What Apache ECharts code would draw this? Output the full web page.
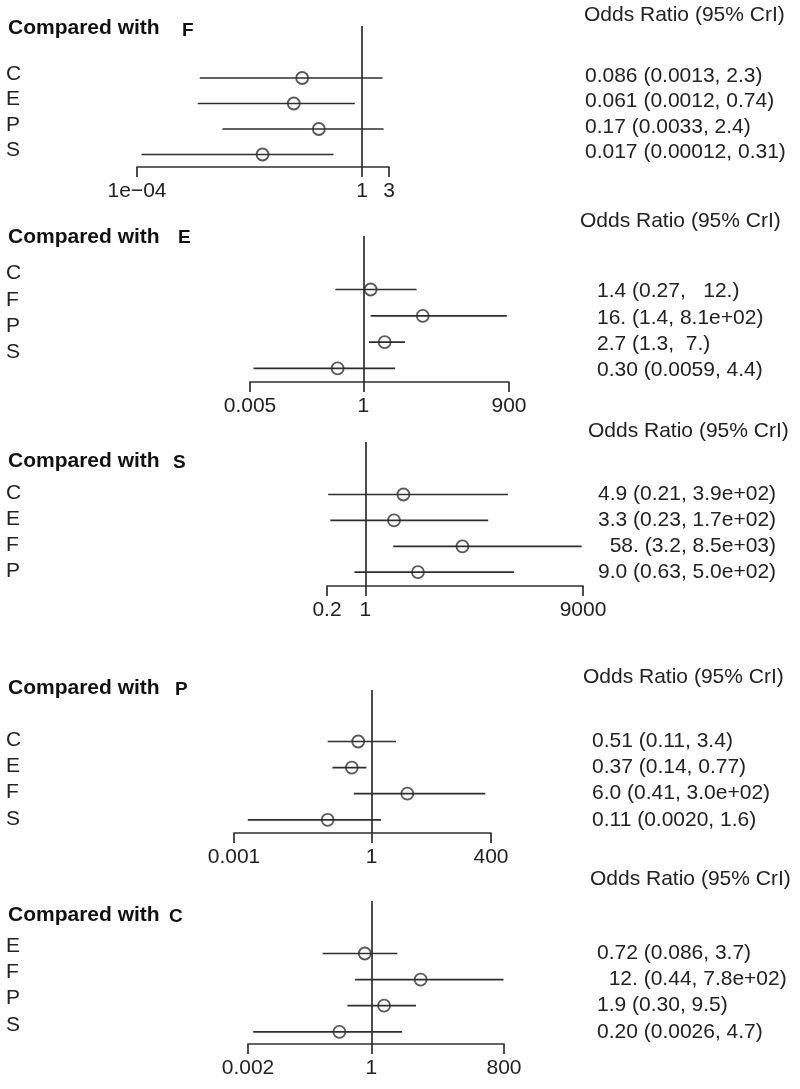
<!DOCTYPE html>
<html>
<head>
<meta charset="utf-8">
<script src="https://cdn.jsdelivr.net/npm/echarts@6/dist/echarts.min.js"></script>
<style>
html, body { margin: 0; padding: 0; background: #fff; }
#chart { width: 800px; height: 1089px; }
</style>
</head>
<body>
<div id="chart"></div>
<script>
// comparator of each panel
const refs = ['F', 'E', 'S', 'P', 'C'];

// compared with F
const fCats = ['C', 'E', 'P', 'S'];
const fOR = [0.086, 0.061, 0.17, 0.017];
const fLow = [0.0013, 0.0012, 0.0033, 0.00012];
const fHigh = [2.3, 0.74, 2.4, 0.31];
const fText = ['0.086 (0.0013, 2.3)', '0.061 (0.0012, 0.74)', '0.17 (0.0033, 2.4)', '0.017 (0.00012, 0.31)'];
const fTicks = [0.0001, 1, 3];
const fTickLabels = ['1e\u221204', '1', '3'];

// compared with E
const eCats = ['C', 'F', 'P', 'S'];
const eOR = [1.4, 16, 2.7, 0.30];
const eLow = [0.27, 1.4, 1.3, 0.0059];
const eHigh = [12, 810, 7, 4.4];
const eText = ['1.4 (0.27,   12.)', '16. (1.4, 8.1e+02)', '2.7 (1.3,  7.)', '0.30 (0.0059, 4.4)'];
const eTicks = [0.005, 1, 900];
const eTickLabels = ['0.005', '1', '900'];

// compared with S
const sCats = ['C', 'E', 'F', 'P'];
const sOR = [4.9, 3.3, 58, 9.0];
const sLow = [0.21, 0.23, 3.2, 0.63];
const sHigh = [390, 170, 8500, 500];
const sText = ['4.9 (0.21, 3.9e+02)', '3.3 (0.23, 1.7e+02)', '  58. (3.2, 8.5e+03)', '9.0 (0.63, 5.0e+02)'];
const sTicks = [0.2, 1, 9000];
const sTickLabels = ['0.2', '1', '9000'];

// compared with P
const pCats = ['C', 'E', 'F', 'S'];
const pOR = [0.51, 0.37, 6.0, 0.11];
const pLow = [0.11, 0.14, 0.41, 0.0020];
const pHigh = [3.4, 0.77, 300, 1.6];
const pText = ['0.51 (0.11, 3.4)', '0.37 (0.14, 0.77)', '6.0 (0.41, 3.0e+02)', '0.11 (0.0020, 1.6)'];
const pTicks = [0.001, 1, 400];
const pTickLabels = ['0.001', '1', '400'];

// compared with C
const cCats = ['E', 'F', 'P', 'S'];
const cOR = [0.72, 12, 1.9, 0.20];
const cLow = [0.086, 0.44, 0.30, 0.0026];
const cHigh = [3.7, 780, 9.5, 4.7];
const cText = ['0.72 (0.086, 3.7)', '  12. (0.44, 7.8e+02)', '1.9 (0.30, 9.5)', '0.20 (0.0026, 4.7)'];
const cTicks = [0.002, 1, 800];
const cTickLabels = ['0.002', '1', '800'];

const panels = [
  { cats: fCats, or: fOR, low: fLow, high: fHigh, text: fText, ticks: fTicks, tickLabels: fTickLabels },
  { cats: eCats, or: eOR, low: eLow, high: eHigh, text: eText, ticks: eTicks, tickLabels: eTickLabels },
  { cats: sCats, or: sOR, low: sLow, high: sHigh, text: sText, ticks: sTicks, tickLabels: sTickLabels },
  { cats: pCats, or: pOR, low: pLow, high: pHigh, text: pText, ticks: pTicks, tickLabels: pTickLabels },
  { cats: cCats, or: cOR, low: cLow, high: cHigh, text: cText, ticks: cTicks, tickLabels: cTickLabels }
];

// pixel layout of each panel
const layout = [
  { top: 26, axisY: 167, left: 137, right: 389, row0: 78, gap: 25.5, labDy: -4, txtDy: -2, headX: 584, headY: 15, txtX: 585, titleY: 28, refX: 182, refY: 31 },
  { top: 236, axisY: 382, left: 250, right: 509, row0: 289.5, gap: 26.3, labDy: -16, txtDy: 2, headX: 580, headY: 221, txtX: 597, titleY: 237, refX: 178, refY: 238 },
  { top: 442, axisY: 586, left: 327, right: 583, row0: 494.5, gap: 25.9, labDy: -1, txtDy: 0, headX: 588, headY: 431, txtX: 598, titleY: 461, refX: 173, refY: 463 },
  { top: 690, axisY: 833, left: 234, right: 491, row0: 741.5, gap: 26.1, labDy: -1, txtDy: 0, headX: 583, headY: 677, txtX: 592, titleY: 688, refX: 175, refY: 690 },
  { top: 901, axisY: 1044, left: 248, right: 504, row0: 953.5, gap: 26.1, labDy: -7, txtDy: 0, headX: 590, headY: 879, txtX: 597, titleY: 915, refX: 169, refY: 917 }
];

const ink = '#2e2e2e';
const textInk = '#222';
const font = '"Liberation Sans", Arial, sans-serif';

const grids = [], xAxes = [], yAxes = [], series = [], graphics = [];

panels.forEach((p, i) => {
  const L = layout[i];
  grids.push({ left: L.left, top: L.top, width: L.right - L.left, height: L.axisY - L.top, outerBoundsMode: 'none' });
  xAxes.push({
    type: 'log', logBase: 10, gridIndex: i,
    min: p.ticks[0], max: p.ticks[p.ticks.length - 1],
    axisLine: { show: true, onZero: false, lineStyle: { color: ink, width: 1.7 } },
    axisTick: { show: true, customValues: p.ticks, length: 10, lineStyle: { color: ink, width: 1.7 } },
    axisLabel: {
      customValues: p.ticks, margin: 14, color: textInk, fontSize: 21, fontFamily: font,
      formatter: v => {
        let k = 0, best = Infinity;
        p.ticks.forEach((t, j) => { const d = Math.abs(Math.log(v) - Math.log(t)); if (d < best) { best = d; k = j; } });
        return p.tickLabels[k];
      }
    },
    splitLine: { show: false }, minorTick: { show: false }
  });
  yAxes.push({
    type: 'value', gridIndex: i, inverse: true, show: false,
    min: (L.top - L.row0) / L.gap, max: (L.axisY - L.row0) / L.gap
  });
  series.push({
    type: 'custom', xAxisIndex: i, yAxisIndex: i, silent: true,
    encode: { x: [0, 1], y: 2 },
    data: p.cats.map((c, j) => [p.low[j], p.high[j], j]),
    renderItem: (params, api) => {
      const a = api.coord([api.value(0), api.value(2)]);
      const b = api.coord([api.value(1), api.value(2)]);
      return { type: 'line', shape: { x1: a[0], y1: a[1], x2: b[0], y2: b[1] }, style: { stroke: ink, lineWidth: 1.7 } };
    }
  });
  series.push({
    type: 'scatter', xAxisIndex: i, yAxisIndex: i, z: 5,
    symbol: 'circle', symbolSize: 12,
    itemStyle: { color: 'rgba(0,0,0,0)', borderColor: ink, borderWidth: 1.8 },
    data: p.cats.map((c, j) => [p.or[j], j]),
    markLine: {
      silent: true, symbol: ['none', 'none'], label: { show: false },
      lineStyle: { color: ink, width: 1.7, type: 'solid' },
      data: [{ xAxis: 1 }]
    }
  });

  // titles, row labels, header and estimate texts
  graphics.push({ type: 'text', x: 8, y: L.titleY, style: { text: 'Compared with', font: 'bold 21px ' + font, fill: '#111', verticalAlign: 'middle' } });
  graphics.push({ type: 'text', x: L.refX, y: L.refY, style: { text: refs[i], font: 'bold 19px ' + font, fill: '#111', verticalAlign: 'middle' } });
  graphics.push({ type: 'text', x: L.headX, y: L.headY, style: { text: 'Odds Ratio (95% CrI)', font: '21px ' + font, fill: textInk, verticalAlign: 'middle' } });
  p.cats.forEach((c, j) => {
    const y = L.row0 + j * L.gap;
    graphics.push({ type: 'text', x: 6, y: y + L.labDy, style: { text: c, font: '21px ' + font, fill: textInk, verticalAlign: 'middle' } });
    graphics.push({ type: 'text', x: L.txtX, y: y + L.txtDy, style: { text: p.text[j], font: '21px ' + font, fill: textInk, verticalAlign: 'middle' } });
  });
});

const chart = echarts.init(document.getElementById('chart'));
chart.setOption({
  backgroundColor: '#fff',
  animation: false,
  grid: grids,
  xAxis: xAxes,
  yAxis: yAxes,
  series: series,
  graphic: graphics
});
</script>
</body>
</html>
